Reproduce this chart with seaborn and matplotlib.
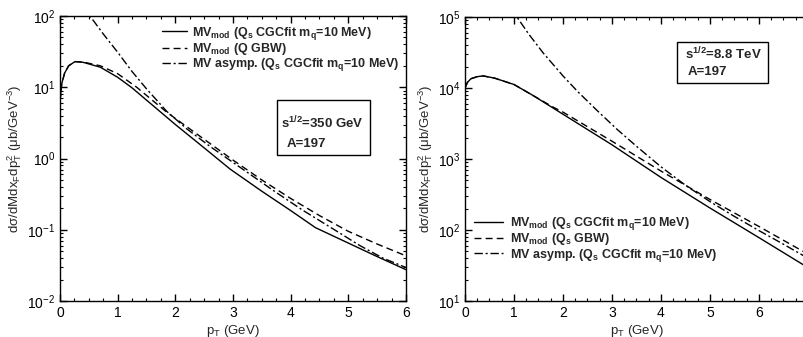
import numpy as np
import pandas as pd
import seaborn as sns
import matplotlib.pyplot as plt
from matplotlib.lines import Line2D
from matplotlib.patches import Rectangle
from matplotlib.ticker import MultipleLocator, LogLocator

# ---------------------------------------------------------------
# Values (pT in GeV, cross section in ub/GeV^-3)
# ---------------------------------------------------------------

# sqrt(s) = 350 GeV
pt_l_mod = [0.0, 0.03, 0.08, 0.15, 0.26, 0.4, 0.7, 1.0, 1.25, 1.5, 2.0, 2.5,
            2.95, 3.5, 4.0, 4.43, 5.0, 5.5, 6.0]
cgc_l = [6.3, 11.2, 15.8, 20.0, 22.9, 22.4, 19.1, 13.8, 9.8, 6.6, 3.0, 1.41,
         0.71, 0.347, 0.186, 0.107, 0.065, 0.042, 0.0275]

pt_l_gbw = [0.0, 0.03, 0.08, 0.15, 0.26, 0.4, 0.7, 1.0, 1.33, 1.85, 2.5, 3.0,
            3.5, 4.0, 4.5, 5.0, 5.5, 6.0]
gbw_l = [6.3, 11.2, 15.8, 20.0, 22.9, 22.6, 20.0, 15.5, 10.0, 4.47, 1.86, 0.95,
         0.50, 0.275, 0.158, 0.095, 0.063, 0.043]

pt_l_asy = [0.4, 0.52, 0.75, 1.0, 1.25, 1.5, 1.85, 2.2, 2.6, 3.2, 3.7, 4.2,
            4.7, 5.2, 5.6, 6.0]
asy_l = [135, 100, 56, 31, 16.6, 9.5, 4.6, 2.6, 1.48, 0.68, 0.355, 0.19,
         0.107, 0.06, 0.04, 0.0295]

# sqrt(s) = 8.8 TeV
pt_r_mod = [0.0, 0.05, 0.12, 0.25, 0.37, 0.6, 1.0, 1.4, 2.0, 3.0, 4.0, 5.0,
            6.0, 7.0]
cgc_r = [10000, 12000, 13500, 14450, 14800, 13800, 11200, 7760, 4270, 1585,
         550, 204, 78, 29.5]

pt_r_gbw = [0.0, 0.05, 0.12, 0.25, 0.37, 0.6, 1.0, 1.4, 1.8, 2.0, 3.0, 4.0,
            5.0, 6.0, 7.0]
gbw_r = [10000, 12000, 13500, 14450, 14800, 13800, 11200, 7760, 5370, 4570,
         1780, 676, 269, 112, 45.7]

pt_r_asy = [0.95, 1.06, 1.3, 1.6, 2.0, 2.3, 2.7, 3.1, 3.5, 4.0, 4.5, 5.0,
            5.5, 6.0, 6.5, 7.0]
asy_r = [131800, 100000, 57500, 30900, 14800, 8900, 4790, 2630, 1510, 776,
         427, 251, 155, 98, 63, 40]

models = ["cgc", "gbw", "asy"]

labels_left = [
    r"MV$_{mod}$ (Q$_s$ CGCfit m$_q$=10 MeV)",
    r"MV$_{mod}$ (Q GBW)",
    r"MV asymp. (Q$_s$ CGCfit m$_q$=10 MeV)",
]
labels_right = [
    r"MV$_{mod}$ (Q$_s$ CGCfit m$_q$=10 MeV)",
    r"MV$_{mod}$ (Q$_s$ GBW)",
    r"MV asymp. (Q$_s$ CGCfit m$_q$=10 MeV)",
]


def to_frame(parts):
    rows = []
    for name, xs, ys in parts:
        rows.append(pd.DataFrame({"pT": xs, "val": ys, "model": name}))
    return pd.concat(rows, ignore_index=True)


df_left = to_frame([("cgc", pt_l_mod, cgc_l), ("gbw", pt_l_gbw, gbw_l),
                    ("asy", pt_l_asy, asy_l)])
df_right = to_frame([("cgc", pt_r_mod, cgc_r), ("gbw", pt_r_gbw, gbw_r),
                     ("asy", pt_r_asy, asy_r)])

# ---------------------------------------------------------------
# Style
# ---------------------------------------------------------------
sns.set_style("ticks")
plt.rcParams["font.family"] = ["Liberation Sans", "DejaVu Sans"]
plt.rcParams["mathtext.default"] = "regular"
plt.rcParams["axes.linewidth"] = 1.0

dash_map = {"cgc": "", "gbw": (5, 3), "asy": (6, 2, 1.5, 2)}

fig = plt.figure(figsize=(8.04, 3.37), dpi=100)
ax_l = fig.add_axes([60 / 804, 36 / 337, 346 / 804, 285 / 337])
ax_r = fig.add_axes([465 / 804, 36 / 337, 343 / 804, 284 / 337])

ylab = r"d$\sigma$/dMdx$_F$dp$_T^2$ ($\mu$b/GeV$^{-3}$)"

for ax, df, xmax, ylim in [(ax_l, df_left, 6, (1e-2, 1e2)),
                           (ax_r, df_right, 7, (1e1, 1e5))]:
    sns.lineplot(data=df, x="pT", y="val", style="model", style_order=models,
                 dashes=dash_map, color="black", linewidth=1.0,
                 sort=False, estimator=None, legend=False, ax=ax)
    ax.set_yscale("log")
    ax.set_xlim(0, xmax)
    ax.set_ylim(*ylim)
    ax.set_xticks(range(0, 7))
    ax.xaxis.set_minor_locator(MultipleLocator(0.25))
    ax.yaxis.set_major_locator(LogLocator(base=10, numticks=10))
    ax.yaxis.set_minor_locator(LogLocator(base=10, subs=np.arange(2, 10), numticks=10))
    ax.tick_params(which="both", direction="in", top=True, right=True,
                   labelsize=10, colors="black")
    ax.tick_params(which="major", length=5, width=1)
    ax.tick_params(which="minor", length=2.5, width=0.8)
    ax.set_xlabel(r"p$_T$ (GeV)", fontsize=9.5, labelpad=2)
    ax.set_ylabel(ylab, fontsize=9.5, labelpad=2)
    for s in ax.spines.values():
        s.set_color("black")

# right spine of the second panel lies just past the picture edge
ax_r.tick_params(which="both", right=False)


def legend_handles(labels):
    return [Line2D([], [], color="black", lw=1.0, linestyle="-", label=labels[0]),
            Line2D([], [], color="black", lw=1.0, dashes=(5, 3), label=labels[1]),
            Line2D([], [], color="black", lw=1.0, dashes=(6, 2, 1.5, 2), label=labels[2])]


leg_font = {"size": 9, "weight": "bold", "family": ["Liberation Sans", "DejaVu Sans"]}
ax_l.legend(handles=legend_handles(labels_left), loc="upper left",
            bbox_to_anchor=(0.295, 0.97), frameon=False, prop=leg_font,
            borderpad=0, borderaxespad=0, labelspacing=-0.05, handlelength=2.0,
            handletextpad=0.4)
ax_r.legend(handles=legend_handles(labels_right), loc="upper left",
            bbox_to_anchor=(0.026, 0.302), frameon=False, prop=leg_font,
            borderpad=0, borderaxespad=0, labelspacing=-0.06, handlelength=2.3,
            handletextpad=0.6)

# Info boxes
ax_l.add_patch(Rectangle((0.627, 0.512), 0.269, 0.193, transform=ax_l.transAxes,
                         fill=False, edgecolor="black", lw=1.0))
ax_l.text(0.638, 0.625, r"s$^{1/2}$=350 GeV", transform=ax_l.transAxes,
          fontsize=9.5, fontweight="bold", va="center", ha="left")
ax_l.text(0.655, 0.55, "A=197", transform=ax_l.transAxes,
          fontsize=9.5, fontweight="bold", va="center", ha="left")

ax_r.add_patch(Rectangle((0.618, 0.768), 0.265, 0.144, transform=ax_r.transAxes,
                         fill=False, edgecolor="black", lw=1.0))
ax_r.text(0.64, 0.869, r"s$^{1/2}$=8.8 TeV", transform=ax_r.transAxes,
          fontsize=9.5, fontweight="bold", va="center", ha="left")
ax_r.text(0.65, 0.805, "A=197", transform=ax_r.transAxes,
          fontsize=9.5, fontweight="bold", va="center", ha="left")

fig.savefig("out.png", dpi=100)
